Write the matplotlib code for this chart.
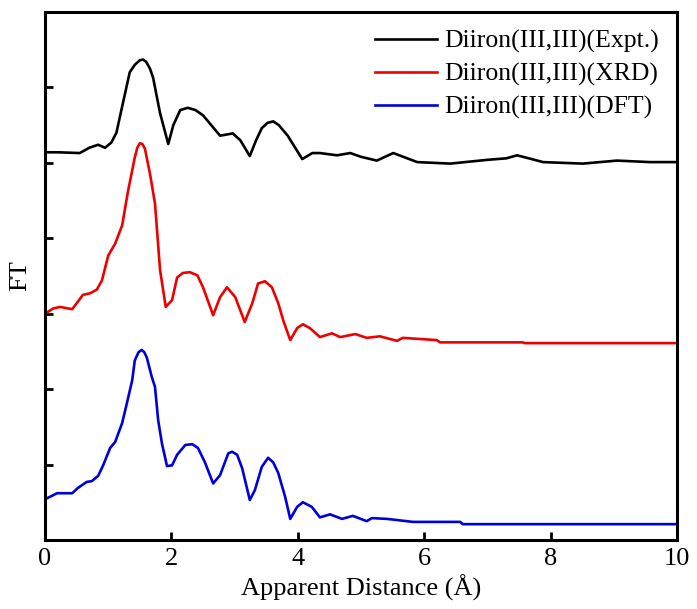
import matplotlib.pyplot as plt

# curves (offset already included)
expt_x = [0.0, 0.2, 0.55, 0.7, 0.84, 0.95, 1.05, 1.13, 1.19, 1.34, 1.42, 1.50, 1.55, 1.60, 1.66,
          1.71, 1.82, 1.95, 2.03, 2.14, 2.26, 2.38, 2.5, 2.77, 2.97, 3.09, 3.24, 3.34, 3.43,
          3.52, 3.61, 3.70, 3.84, 4.07, 4.23, 4.35, 4.62, 4.83, 5.0, 5.25, 5.51, 5.89, 6.41,
          7.0, 7.3, 7.47, 7.7, 7.88, 8.51, 9.05, 9.57, 10.0]
expt_y = [5.14, 5.14, 5.13, 5.2, 5.24, 5.2, 5.27, 5.4, 5.63, 6.2, 6.3, 6.36, 6.37, 6.34, 6.25,
          6.13, 5.66, 5.25, 5.5, 5.7, 5.73, 5.70, 5.63, 5.36, 5.39, 5.3, 5.09, 5.30, 5.46,
          5.53, 5.55, 5.50, 5.36, 5.05, 5.13, 5.13, 5.10, 5.13, 5.08, 5.03, 5.13, 5.01, 4.99,
          5.04, 5.06, 5.10, 5.05, 5.01, 4.99, 5.03, 5.01, 5.01]

xrd_x = [0.0, 0.13, 0.24, 0.43, 0.60, 0.71, 0.82, 0.90, 1.00, 1.11, 1.22, 1.31, 1.42, 1.46,
         1.50, 1.54, 1.58, 1.66, 1.74, 1.82, 1.91, 2.01, 2.09, 2.18, 2.29, 2.41, 2.50, 2.66,
         2.77, 2.88, 3.01, 3.16, 3.28, 3.37, 3.48, 3.59, 3.69, 3.77, 3.88, 3.99, 4.08, 4.19,
         4.35, 4.54, 4.67, 4.91, 5.09, 5.30, 5.57, 5.66, 6.20, 6.25, 7.56, 7.59, 10.0]
xrd_y = [3.0, 3.07, 3.09, 3.06, 3.25, 3.27, 3.32, 3.44, 3.77, 3.93, 4.17, 4.61, 5.07, 5.20,
         5.26, 5.25, 5.19, 4.86, 4.46, 3.58, 3.09, 3.18, 3.48, 3.54, 3.55, 3.51, 3.35, 2.98,
         3.22, 3.35, 3.22, 2.89, 3.14, 3.40, 3.43, 3.35, 3.14, 2.91, 2.65, 2.81, 2.86, 2.81,
         2.69, 2.74, 2.69, 2.73, 2.68, 2.70, 2.64, 2.68, 2.65, 2.62, 2.62, 2.61, 2.61]

dft_x = [0.0, 0.19, 0.43, 0.52, 0.66, 0.74, 0.84, 0.92, 1.03, 1.11, 1.22, 1.30, 1.38, 1.42,
         1.48, 1.53, 1.57, 1.61, 1.69, 1.74, 1.79, 1.85, 1.93, 2.01, 2.09, 2.22, 2.33, 2.42,
         2.53, 2.66, 2.77, 2.90, 2.96, 3.04, 3.12, 3.24, 3.32, 3.43, 3.53, 3.61, 3.69, 3.80,
         3.88, 3.99, 4.08, 4.22, 4.35, 4.51, 4.70, 4.87, 5.09, 5.17, 5.41, 5.82, 6.57, 6.61, 10.0]
dft_y = [0.54, 0.62, 0.62, 0.69, 0.77, 0.78, 0.85, 0.99, 1.22, 1.30, 1.55, 1.83, 2.12, 2.38,
         2.49, 2.52, 2.49, 2.42, 2.16, 2.03, 1.59, 1.28, 0.98, 0.99, 1.13, 1.26, 1.27, 1.22,
         1.03, 0.75, 0.86, 1.15, 1.17, 1.13, 0.95, 0.53, 0.66, 0.97, 1.09, 1.03, 0.89, 0.57,
         0.28, 0.44, 0.50, 0.44, 0.30, 0.34, 0.28, 0.32, 0.25, 0.29, 0.28, 0.24, 0.24, 0.21, 0.21]

labels = ["Diiron(III,III)(Expt.)", "Diiron(III,III)(XRD)", "Diiron(III,III)(DFT)"]
colors = ["black", "#ee0000", "#0000dd"]

plt.rcParams['font.family'] = ['Liberation Serif', 'DejaVu Serif']

fig = plt.figure(figsize=(6.97, 6.09), dpi=100)
ax = fig.add_axes([0.0646, 0.1133, 0.9067, 0.867])

for xs, ys, c, lab in zip([expt_x, xrd_x, dft_x], [expt_y, xrd_y, dft_y], colors, labels):
    ax.plot(xs, ys, color=c, lw=1.9, label=lab, solid_joinstyle='round')

ax.set_xlim(0, 10)
ax.set_ylim(0, 7)
ax.set_xticks([0, 2, 4, 6, 8, 10])
ax.set_yticks([1, 2, 3, 4, 5, 6])
ax.set_yticklabels([])
ax.tick_params(direction='in', length=6, width=2, labelsize=19, pad=6)
for s in ax.spines.values():
    s.set_linewidth(2.2)

ax.set_xlabel("Apparent Distance (Å)", fontsize=19, labelpad=3)
ax.set_ylabel("FT", fontsize=19, labelpad=4)

ax.legend(loc='upper right', frameon=False, fontsize=18.5, handlelength=2.4,
          labelspacing=0.37, handletextpad=0.3, borderaxespad=0.3)

fig.savefig("out.png", dpi=100)
